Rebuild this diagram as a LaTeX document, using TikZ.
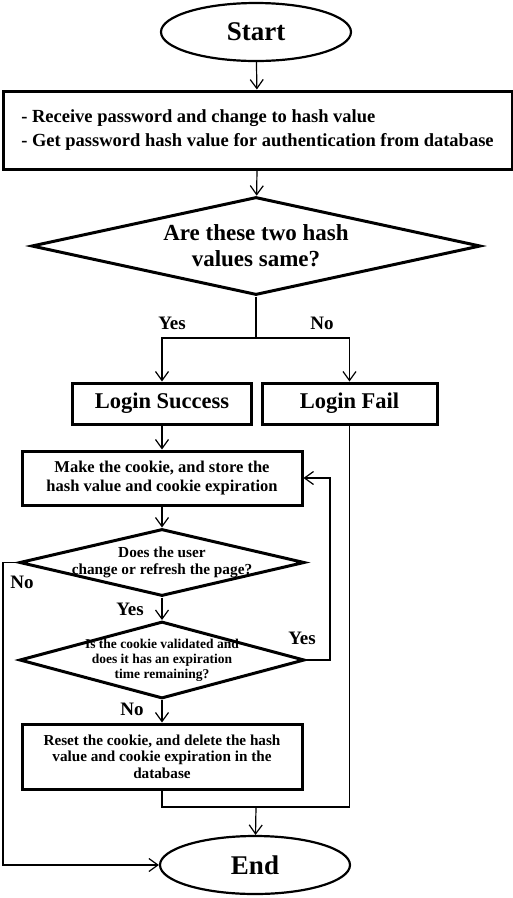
\documentclass[tikz,border=0pt]{standalone}
\usepackage{fontspec}
\setmainfont{Liberation Serif}
\usetikzlibrary{shapes.geometric,arrows.meta}

\tikzset{
  term/.style={ellipse,draw,line width=2.2pt,inner sep=0pt,
    minimum width=190pt,minimum height=58pt,
    font=\fontsize{27}{30}\selectfont\bfseries},
  procbox/.style={rectangle,draw,line width=3pt,inner sep=0pt,align=center},
  decide/.style={diamond,draw,line width=3pt,inner sep=0pt,align=center},
  flow/.style={line width=1.2pt},
  flowarr/.style={flow,-{Straight Barb[length=9pt,width=13pt,line width=1.2pt]}},
  answer/.style={font=\fontsize{19}{21}\selectfont\bfseries,inner sep=0pt}
}

\begin{document}
\begin{tikzpicture}[x=1pt,y=-1pt]%
  \useasboundingbox (0,0) rectangle (513,898);
  \pgfmathsetmacro{\col}{162}
  \node[term] (start) at (256,32) {Start};
  \node[procbox,minimum width=509pt,minimum height=78pt,align=left,
    font=\fontsize{18.5}{23.5}\selectfont\bfseries] (recv) at (257.5,130)
    {- Receive password and change to hash value\\
     - Get password hash value for authentication from database};
  \node[decide,minimum width=449pt,minimum height=98pt,aspect=4.6,
    font=\fontsize{23}{26}\selectfont\bfseries] (same) at (256,246)
    {Are these two hash\\values same?};
  \coordinate (fork) at (256,338);
  \node[procbox,minimum width=179pt,minimum height=41pt,
    font=\fontsize{22.5}{25}\selectfont\bfseries] (succ) at (\col,403.5) {Login Success};
  \node[procbox,minimum width=175pt,minimum height=41pt,
    font=\fontsize{22.5}{25}\selectfont\bfseries] (fail) at (349.5,403.5) {Login Fail};
  \node[procbox,minimum width=280pt,minimum height=54pt,
    font=\fontsize{16.5}{18.3}\selectfont\bfseries] (cookie) at (\col,478)
    {Make the cookie, and store the\\hash value and cookie expiration};
  \node[decide,minimum width=285pt,minimum height=67pt,
    label={[font=\fontsize{15.3}{16.5}\selectfont\bfseries,align=center]center:{Does the user\\change or refresh the page?}}]
    (ask) at (\col,562.5) {};
  \node[decide,minimum width=285pt,minimum height=77pt,
    label={[font=\fontsize{13.5}{15}\selectfont\bfseries,align=center]center:{Is the cookie validated and\\does it has an expiration\\time remaining?}}]
    (valid) at (\col,660) {};
  \node[procbox,minimum width=280pt,minimum height=65pt,
    font=\fontsize{15.2}{16.5}\selectfont\bfseries] (reset) at (\col,756.5)
    {Reset the cookie, and delete the hash\\value and cookie expiration in the\\database};
  \coordinate (merge) at (256,807);
  \node[term] (end) at (255,865) {End};

  \draw[flowarr] (start) -- (recv);
  \draw[flowarr] (recv) -- (same);
  \draw[flow] (same.south) -- (fork);
  \draw[flowarr] (fork) -| (succ.north);
  \draw[flowarr] (fork) -| (fail.north);
  \node[answer] at (172,323) {Yes};
  \node[answer] at (322,323) {No};
  \draw[flowarr] (succ) -- (cookie);
  \draw[flowarr] (cookie) -- (ask);
  \draw[flowarr] (ask) -- (valid);
  \node[answer] at (130,609) {Yes};
  \draw[flowarr] (valid) -- (reset);
  \node[answer] at (132,709) {No};
  \draw[flowarr] (valid.east) -- (330,660) |- (cookie.east);
  \node[answer] at (302,638) {Yes};
  \draw[flowarr] (ask.west) -- (3,562.5) |- (end.west);
  \node[answer] at (22,582) {No};
  \draw[flow] (reset.south) |- (merge) -| (fail.south);
  \draw[flowarr] (merge) -- (end);
\end{tikzpicture}
\end{document}
